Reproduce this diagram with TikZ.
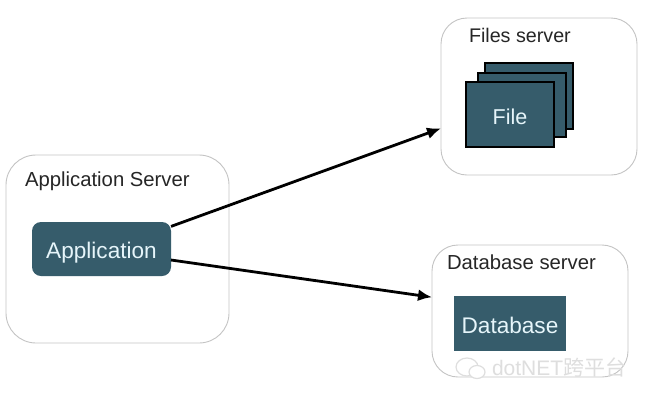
\documentclass[tikz,border=0pt]{standalone}
\usepackage{fontspec}
\setmainfont{Liberation Sans}
\newfontfamily\cjk{Noto Sans CJK SC}
\usetikzlibrary{arrows.meta}
\definecolor{teal1}{HTML}{365C6B}
\definecolor{srvline}{HTML}{C4C4C4}
\definecolor{wmark}{HTML}{DEDEDE}
\definecolor{lighttext}{HTML}{E6F5FA}
\tikzset{
  every node/.style={inner sep=0pt,outer sep=0pt},
  server/.style={draw=srvline,line width=0.9pt,fill=white,rounded corners=#1},
  server/.default=26pt,
  srvlabel/.style={font=\fontsize{20.3}{23}\selectfont,text=black!85,anchor=west},
  appbox/.style={fill=teal1,rounded corners=9pt,text=lighttext,font=\fontsize{22.6}{25}\selectfont},
  filebox/.style={fill=teal1,draw=black,line width=2.6pt,text=lighttext,font=\fontsize{21.5}{24}\selectfont},
  dbbox/.style={fill=teal1,text=lighttext,font=\fontsize{22.6}{25}\selectfont},
  link/.style={draw=black,line width=2.8pt,-{Latex[length=14pt,width=12pt]},shorten >=0pt},
  wm/.style={text=wmark,anchor=west,font=\fontsize{21}{24}\selectfont},
}
\begin{document}
\begin{tikzpicture}[x=1pt,y=-1pt]
\useasboundingbox (0,0) rectangle (647,400);
\fill[white] (0,0) rectangle (647,400);
% servers
\node[server=30pt,minimum width=223pt,minimum height=188pt] (appsrv) at (117.5,249) {};
\node[server,minimum width=196pt,minimum height=157pt] (filesrv) at (539,96.5) {};
\node[server,minimum width=196pt,minimum height=132pt] (dbsrv) at (530,311) {};
\node[srvlabel] (appsrvlabel) at (25,181) {Application Server};
\node[srvlabel,font=\fontsize{19.7}{23}\selectfont] (filesrvlabel) at (469,35) {Files server};
\node[srvlabel] (dbsrvlabel) at (447,262) {Database server};
% application
\node[appbox,minimum width=139pt,minimum height=54pt] (app) at (101.5,249) {\smash{\raisebox{-9pt}{Application}}};
% file stack
\node[filebox,minimum width=88pt,minimum height=66pt] (file3) at (529,96) {};
\node[filebox,minimum width=88pt,minimum height=64pt] (file2) at (522,105) {};
\node[filebox,minimum width=88pt,minimum height=65pt] (file1) at (510,114.5) {\smash{\raisebox{-9.5pt}{File}}};
% database
\node[dbbox,minimum width=112pt,minimum height=55pt] (db) at (510,323.5) {\smash{\raisebox{-9.5pt}{Database}}};
% connectors
\draw[link] (app.18) -- (filesrv.198.7);
\draw[link] (app.-9) -- (dbsrv.172);
% watermark
\node[wm] (wmtext) at (492,368) {dotNET{\cjk 跨平台}};
\draw[wmark,line width=1.2pt] (467,367) ellipse (11pt and 9pt);
\draw[wmark,line width=1.2pt,fill=white] (477,372) ellipse (8pt and 6.5pt);
\end{tikzpicture}
\end{document}
